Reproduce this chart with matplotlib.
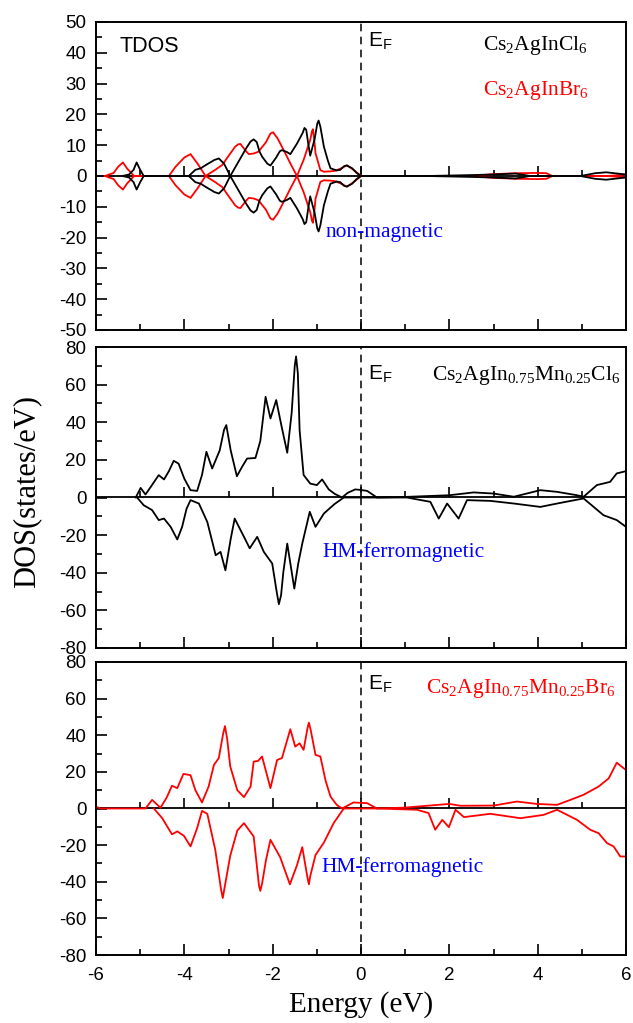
import matplotlib
matplotlib.use("Agg")
import matplotlib.pyplot as plt
from matplotlib.ticker import MultipleLocator

# ---------------- data ----------------
# Panel 1: TDOS, non-magnetic (spin-down = mirror of spin-up)
cl_E = [-5.4, -5.25, -5.15, -5.08, -5.0, -4.92, -3.9, -3.75, -3.63, -3.52, -3.45, -3.32,
        -3.22, -3.1, -2.96, -2.8, -2.6, -2.5, -2.43, -2.36, -2.3, -2.24, -2.12, -2.05,
        -1.92, -1.84, -1.79, -1.68, -1.6, -1.45, -1.32, -1.28, -1.24, -1.2, -1.15, -1.05,
        -0.99, -0.96, -0.92, -0.84, -0.75, -0.69, -0.55, -0.47, -0.38, -0.32, -0.2,
        -0.1, 0.0, 0.05, 1.5, 2.5, 3.0, 3.5, 3.83, 4.97, 5.3, 5.55, 5.8, 6.0]
cl_dos = [0, 0.5, 2.0, 4.4, 2.0, 0, 0, 2.0, 2.5, 3.5, 4.1, 5.2,
          5.7, 4.0, 0, 4.0, 9.0, 11.2, 11.9, 11.0, 8.0, 6.3, 4.0, 3.4,
          6.0, 8.0, 8.4, 7.8, 7.1, 10.5, 14.0, 15.6, 15.0, 11.0, 6.6, 12.0,
          17.0, 18.0, 16.0, 9.5, 5.0, 2.5, 1.8, 2.0, 3.2, 3.4, 2.5,
          1.0, 0, 0, 0, 0.3, 0.5, 0.8, 0, 0, 0.9, 1.2, 0.8, 0.5]

br_E = [-5.8, -5.6, -5.5, -5.39, -5.3, -5.14, -4.35, -4.2, -4.0, -3.86, -3.7, -3.52,
        -3.3, -3.14, -3.0, -2.85, -2.78, -2.73, -2.6, -2.54, -2.43, -2.32, -2.15, -2.05,
        -1.99, -1.93, -1.9, -1.79, -1.6, -1.45, -1.3, -1.15, -1.11, -1.09, -1.06, -1.03,
        -0.92, -0.84, -0.7, -0.58, -0.45, -0.32, -0.15, 0.0, 2.5, 3.0, 3.5, 4.0, 4.2,
        4.33, 5.6, 6.0]
br_dos = [0, 1.0, 3.0, 4.4, 2.5, 0, 0, 3.0, 6.0, 7.1, 4.0, 0,
          2.0, 3.6, 6.5, 9.5, 10.3, 10.4, 8.0, 7.1, 7.3, 7.9, 11.0, 13.8,
          14.2, 13.0, 12.5, 9.5, 4.1, 0, 5.2, 11.7, 14.5, 15.2, 12.0, 7.4,
          1.9, 1.4, 1.5, 1.7, 2.5, 3.5, 1.8, 0, 0, 0.6, 0.9, 1.0, 0.9,
          0, 0, 0.5]

# Panel 2: Cs2AgIn0.75Mn0.25Cl6
mncl_up_E = [-5.1, -4.99, -4.88, -4.75, -4.58, -4.46, -4.35, -4.24, -4.13, -4.0, -3.86,
             -3.71, -3.6, -3.5, -3.37, -3.2, -3.1, -3.05, -2.95, -2.81, -2.7, -2.58,
             -2.39, -2.28, -2.16, -2.05, -1.92, -1.8, -1.67, -1.57, -1.5, -1.47, -1.43,
             -1.39, -1.3, -1.15, -1.0, -0.88, -0.73, -0.6, -0.43, -0.3, -0.13, 0.0, 0.14,
             0.36, 1.0, 2.0, 2.55, 3.0, 3.46, 4.06, 4.44, 4.89, 5.04, 5.34, 5.64, 5.79,
             6.0]
mncl_up = [0, 5.1, 1.6, 6.0, 11.9, 9.6, 14.0, 19.5, 18.0, 10.0, 3.9,
           3.5, 12.0, 24.3, 15.4, 25.0, 36.0, 38.5, 25.0, 11.3, 16.0, 20.7,
           21.0, 30.0, 53.5, 42.0, 51.8, 38.0, 23.8, 45.0, 70.0, 75.0, 66.0,
           35.8, 12.0, 7.4, 6.6, 9.6, 4.3, 2.0, 0, 2.5, 4.3, 4.0, 3.5,
           0, 0.3, 1.2, 2.7, 2.1, 0.4, 3.9, 3.0, 1.2, 0.4, 6.6, 8.3, 12.8,
           14.0]
mncl_dn_E = [-5.07, -4.92, -4.73, -4.58, -4.46, -4.31, -4.16, -4.05, -3.95, -3.86, -3.67,
             -3.48, -3.29, -3.18, -3.07, -2.95, -2.86, -2.65, -2.52, -2.35, -2.2, -2.01,
             -1.91, -1.86, -1.81, -1.76, -1.67, -1.51, -1.42, -1.33, -1.16, -1.03, -0.84,
             -0.6, -0.39, 1.04, 1.57, 1.76, 1.95, 2.21, 2.4, 2.93, 3.46, 4.06, 4.44, 5.04,
             5.49, 5.79, 6.0]
mncl_dn = [0, -4.1, -6.7, -12.0, -11.2, -15.6, -22.3, -15.6, -6.0, -1.4, -3.2,
           -13.0, -30.7, -28.9, -38.7, -22.0, -11.2, -20.9, -27.0, -20.9, -28.9, -35.1,
           -50.0, -56.7, -52.0, -40.0, -24.5, -48.4, -35.0, -24.5, -7.6, -15.6, -8.5,
           -3.5, 0, 0, -2.3, -11.2, -3.2, -11.2, -1.4, -1.8, -3.2, -5.0, -3.2, -0.5,
           -9.4, -12.0, -15.6]

# Panel 3: Cs2AgIn0.75Mn0.25Br6
mnbr_up_E = [-6.0, -5.9, -4.88, -4.73, -4.54, -4.4, -4.28, -4.16, -4.02, -3.86, -3.75,
             -3.6, -3.45, -3.33, -3.22, -3.12, -3.08, -3.03, -2.96, -2.8, -2.65, -2.5,
             -2.43, -2.33, -2.24, -2.05, -1.9, -1.79, -1.7, -1.6, -1.49, -1.39, -1.3,
             -1.21, -1.18, -1.14, -1.03, -0.92, -0.8, -0.69, -0.55, -0.43, -0.17, 0.14,
             0.36, 1.0, 2.0, 2.25, 3.0, 3.53, 3.98, 4.44, 4.74, 5.04, 5.38, 5.61, 5.79,
             6.0]
mnbr_up = [1.0, 0, 0, 4.7, 0.4, 6.0, 12.4, 11.1, 18.9, 18.2, 10.0,
           3.3, 12.0, 23.8, 27.5, 41.0, 45.0, 38.0, 22.9, 10.0, 6.2, 12.0,
           25.6, 26.0, 28.4, 11.1, 26.5, 27.5, 35.0, 43.3, 33.8, 35.6, 32.0,
           44.0, 46.9, 43.0, 29.3, 28.4, 15.0, 6.5, 2.0, 0, 3.3, 2.9,
           0, 0.5, 2.5, 1.5, 1.6, 3.8, 2.5, 2.0, 4.7, 7.5, 12.0, 16.5, 25.0,
           21.0]
mnbr_dn_E = [-4.69, -4.5, -4.28, -4.16, -4.01, -3.86, -3.71, -3.6, -3.48, -3.3, -3.17,
             -3.13, -3.08, -2.96, -2.8, -2.65, -2.43, -2.31, -2.28, -2.24, -2.15, -2.05,
             -1.83, -1.61, -1.45, -1.33, -1.21, -1.18, -1.15, -1.03, -0.84, -0.62, -0.39,
             0.37, 1.27, 1.53, 1.68, 1.84, 1.99, 2.14, 2.33, 2.93, 3.61, 4.13, 4.44, 4.89,
             5.19, 5.38, 5.57, 5.72, 5.87, 6.0]
mnbr_dn = [0, -5.3, -14.1, -12.5, -14.9, -20.7, -10.7, -1.3, -2.9, -22.5, -44.0,
           -48.9, -42.0, -25.7, -12.0, -8.0, -15.3, -42.0, -45.0, -41.0, -28.0, -17.1,
           -26.6, -41.4, -31.0, -21.1, -38.0, -41.4, -37.0, -25.4, -18.6, -8.0, 0,
           0, -0.7, -2.5, -11.6, -6.2, -10.2, -0.7, -4.7, -2.9, -5.3, -3.5, -0.7, -6.2,
           -11.6, -13.5, -18.9, -20.7, -26.2, -26.2]

xticks = [-6, -4, -2, 0, 2, 4, 6]

# ---------------- figure ----------------
SERIF = "Liberation Serif"
SANS = "Liberation Sans"
plt.rcParams["font.family"] = SANS
plt.rcParams["axes.unicode_minus"] = False

fig = plt.figure(figsize=(6.33, 10.23), dpi=100)
left, width = 96 / 633, 530 / 633
axes_px = [(22, 330), (347, 648), (662, 955)]
axs = []
for top, bot in axes_px:
    ax = fig.add_axes([left, 1 - bot / 1023, width, (bot - top) / 1023])
    axs.append(ax)

ylims = [(-50, 50), (-80, 80), (-80, 80)]
ymaj = [10, 20, 20]
ymin = [5, 10, 10]
LW = 1.3

for i, ax in enumerate(axs):
    ax.set_xlim(-6, 6)
    ax.set_ylim(*ylims[i])
    ax.xaxis.set_major_locator(MultipleLocator(2))
    ax.xaxis.set_minor_locator(MultipleLocator(1))
    ax.yaxis.set_major_locator(MultipleLocator(ymaj[i]))
    ax.yaxis.set_minor_locator(MultipleLocator(ymin[i]))
    ax.tick_params(which="both", direction="in", top=False, right=False,
                   width=1.2, labelsize=13.5)
    ax.tick_params(which="major", length=8)
    ax.tick_params(which="minor", length=4.5)
    ax.tick_params(axis="y", pad=7)
    ax.tick_params(axis="x", pad=9)
    for sp in ax.spines.values():
        sp.set_linewidth(1.4)
    if i < 2:
        ax.tick_params(axis="x", labelbottom=False)
    # zero line with ticks
    sec = ax.secondary_xaxis(0.5)
    sec.xaxis.set_major_locator(MultipleLocator(2))
    sec.xaxis.set_minor_locator(MultipleLocator(1))
    sec.tick_params(which="both", direction="out", labeltop=False, labelbottom=False,
                    width=1.2)
    sec.tick_params(which="major", length=7)
    sec.tick_params(which="minor", length=4.5)
    for sp in sec.spines.values():
        sp.set_linewidth(1.3)
    # Fermi level
    ax.axvline(0, color="black", lw=1.1, ls=(0, (5, 3.5)))

axs[2].set_xticks(xticks)

kw = dict(lw=LW, solid_joinstyle="round")
# Panel 1
ax = axs[0]
ax.plot(br_E, br_dos, color="red", **kw)
ax.plot(br_E, [-v for v in br_dos], color="red", **kw)
ax.plot(cl_E, cl_dos, color="black", **kw)
ax.plot(cl_E, [-v for v in cl_dos], color="black", **kw)
ax.text(0.045, 0.903, "TDOS", transform=ax.transAxes, fontsize=15.5, family=SANS,
        va="baseline")
ax.text(0.513, 0.919, r"$\mathregular{E_F}$", transform=ax.transAxes, fontsize=15,
        family=SANS, va="baseline")
ax.text(0.730, 0.909, r"$\mathregular{Cs_2AgInCl_6}$", transform=ax.transAxes,
        fontsize=15.5, family=SERIF, va="baseline", color="black")
ax.text(0.730, 0.763, r"$\mathregular{Cs_2AgInBr_6}$", transform=ax.transAxes,
        fontsize=15.5, family=SERIF, va="baseline", color="red")
ax.text(0.434, 0.302, "non-magnetic", transform=ax.transAxes, fontsize=15.5,
        family=SERIF, va="baseline", color="blue")

# Panel 2
ax = axs[1]
ax.plot(mncl_up_E, mncl_up, color="black", **kw)
ax.plot(mncl_dn_E, mncl_dn, color="black", **kw)
ax.text(0.513, 0.890, r"$\mathregular{E_F}$", transform=ax.transAxes, fontsize=15,
        family=SANS, va="baseline")
ax.text(0.634, 0.890, r"$\mathregular{Cs_2AgIn_{0.75}Mn_{0.25}Cl_6}$",
        transform=ax.transAxes, fontsize=15.5, family=SERIF, va="baseline",
        color="black")
ax.text(0.428, 0.302, "HM-ferromagnetic", transform=ax.transAxes, fontsize=15.5,
        family=SERIF, va="baseline", color="blue")

# Panel 3
ax = axs[2]
ax.plot(mnbr_up_E, mnbr_up, color="red", **kw)
ax.plot(mnbr_dn_E, mnbr_dn, color="red", **kw)
ax.text(0.513, 0.904, r"$\mathregular{E_F}$", transform=ax.transAxes, fontsize=15,
        family=SANS, va="baseline")
ax.text(0.623, 0.894, r"$\mathregular{Cs_2AgIn_{0.75}Mn_{0.25}Br_6}$",
        transform=ax.transAxes, fontsize=15.5, family=SERIF, va="baseline",
        color="red")
ax.text(0.426, 0.283, "HM-ferromagnetic", transform=ax.transAxes, fontsize=15.5,
        family=SERIF, va="baseline", color="blue")
ax.set_xlabel("Energy (eV)", fontsize=21, family=SERIF, labelpad=5)

fig.text(27 / 633, 1 - 491 / 1023, "DOS(states/eV)", rotation=90, fontsize=22,
         family=SERIF, ha="center", va="center")

fig.savefig("out.png", dpi=100)
